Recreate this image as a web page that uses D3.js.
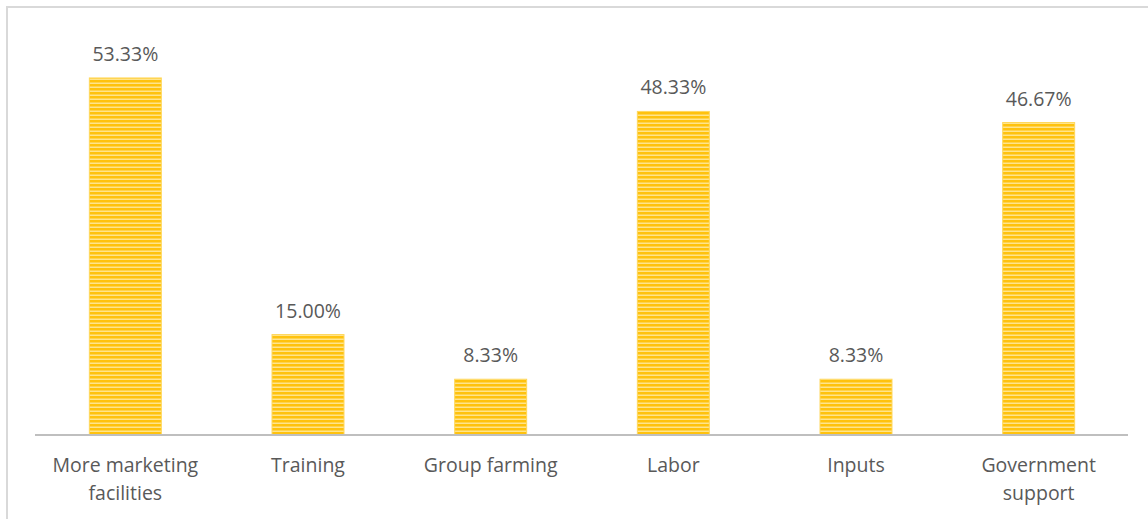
<!DOCTYPE html>
<html>
<head>
<meta charset="utf-8">
<script src="https://cdn.jsdelivr.net/npm/d3@7"></script>
<style>
  html, body { margin: 0; padding: 0; background: #fff; }
  svg { display: block; }
  text { font-family: "Open Sans", "Noto Sans", sans-serif; fill: #595959; }
</style>
</head>
<body>
<svg id="chart" width="1148" height="519"></svg>
<script>
// Share of respondents per suggested improvement
const categories = [
  ["More marketing", "facilities"],
  ["Training"],
  ["Group farming"],
  ["Labor"],
  ["Inputs"],
  ["Government", "support"]
];
const values = [53.33, 15.00, 8.33, 48.33, 8.33, 46.67];
const valueLabels = ["53.33%", "15.00%", "8.33%", "48.33%", "8.33%", "46.67%"];

const svg = d3.select("#chart");
const W = 1148, H = 519;

// outer chart border
svg.append("rect")
  .attr("x", 7).attr("y", 7)
  .attr("width", W + 10).attr("height", H + 10)
  .attr("fill", "#fff")
  .attr("stroke", "#d9d9d9").attr("stroke-width", 2);

// striped fill for bars
const defs = svg.append("defs");
const pat = defs.append("pattern")
  .attr("id", "stripes")
  .attr("patternUnits", "userSpaceOnUse")
  .attr("width", 8).attr("height", 4);
pat.append("rect").attr("width", 8).attr("height", 4).attr("fill", "#ffc20e");
pat.append("rect").attr("y", 2.5).attr("width", 8).attr("height", 1.5).attr("fill", "#ffe48c");

const x = d3.scaleBand()
  .domain(d3.range(categories.length))
  .range([34, 1130])
  .paddingInner(0.606)
  .paddingOuter(0.303);

const baseY = 435;
const y = d3.scaleLinear()
  .domain([0, 60])
  .range([baseY, baseY - 60 * 6.695]);

// bars
svg.append("g").selectAll("rect")
  .data(values)
  .join("rect")
  .attr("x", (d, i) => x(i))
  .attr("y", d => y(d))
  .attr("width", x.bandwidth())
  .attr("height", d => y(0) - y(d))
  .attr("fill", "url(#stripes)")
  .attr("stroke", "#ffd75a")
  .attr("stroke-width", 1);

// value labels
svg.append("g").selectAll("text")
  .data(values)
  .join("text")
  .attr("x", (d, i) => x(i) + x.bandwidth() / 2)
  .attr("y", d => y(d) - 17)
  .attr("text-anchor", "middle")
  .attr("font-size", 19.5)
  .text((d, i) => valueLabels[i]);

// category axis
const axis = d3.axisBottom(x).tickSize(0).tickFormat("");
const gx = svg.append("g")
  .attr("transform", `translate(0,${baseY})`)
  .call(axis);
gx.select(".domain").attr("stroke", "#bfbfbf").attr("stroke-width", 2.2)
  .attr("d", "M35,0H1128");

const labels = svg.append("g").selectAll("text")
  .data(categories)
  .join("text")
  .attr("text-anchor", "middle")
  .attr("font-size", 19.5)
  .attr("x", (d, i) => x(i) + x.bandwidth() / 2)
  .attr("y", 472);
labels.selectAll("tspan")
  .data(d => d)
  .join("tspan")
  .attr("x", function() { return this.parentNode.getAttribute("x"); })
  .attr("dy", (d, j) => j === 0 ? 0 : 28)
  .text(d => d);
</script>
</body>
</html>
